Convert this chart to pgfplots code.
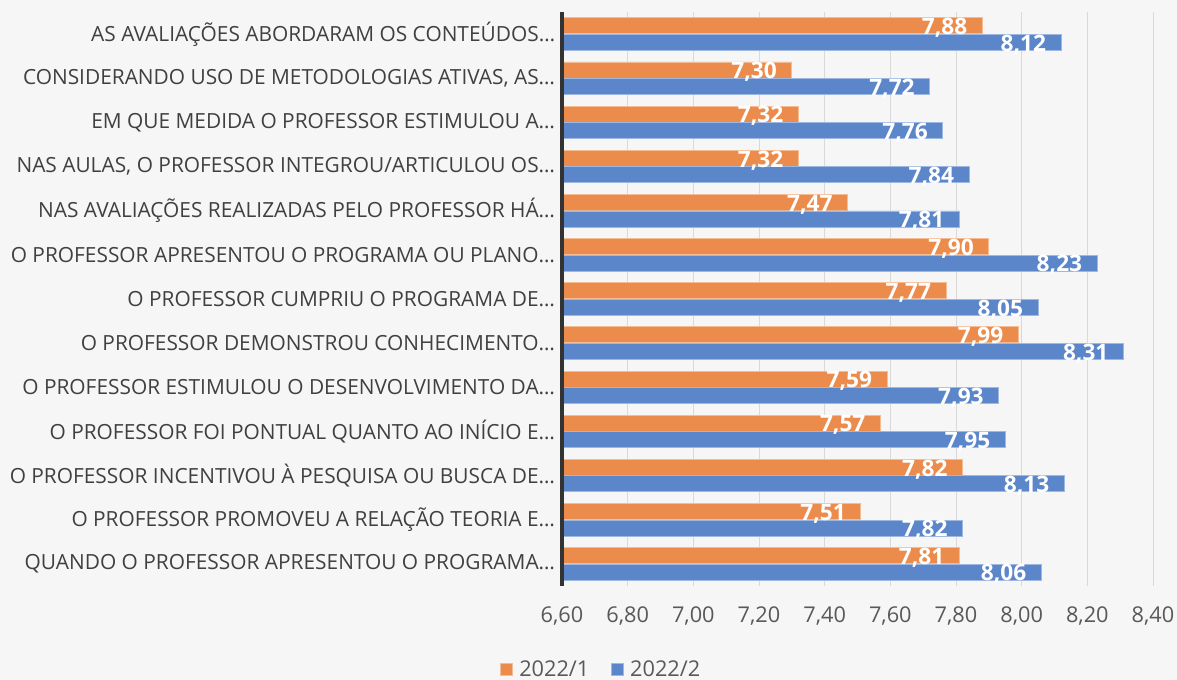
\documentclass[border=0pt]{standalone}
\usepackage{fontspec}
\setmainfont{Open Sans}
\usepackage{pgfplots}
\pgfplotsset{compat=1.18}
\definecolor{bg}{HTML}{F6F6F6}
\definecolor{cOr}{HTML}{EC8C4C}
\definecolor{cBl}{HTML}{5C86CA}
\definecolor{cOrE}{HTML}{F5BC94}
\definecolor{cBlE}{HTML}{9FB8E2}
\definecolor{gridc}{HTML}{D9D9D9}
\definecolor{txt}{HTML}{404040}
\definecolor{tick}{HTML}{595959}
\pgfplotstableread{
idx a b
0 7.88 8.12
1 7.30 7.72
2 7.32 7.76
3 7.32 7.84
4 7.47 7.81
5 7.90 8.23
6 7.77 8.05
7 7.99 8.31
8 7.59 7.93
9 7.57 7.95
10 7.82 8.13
11 7.51 7.82
12 7.81 8.06
}\datatable
\begin{document}
\begin{tikzpicture}
\fill[bg] (0,0) rectangle (882.75pt,510pt);
\begin{axis}[
  at={(421.5pt,70.5pt)}, anchor=south west,
  scale only axis, width=443.25pt, height=430.5pt,
  xbar, bar width=12pt,
  xmin=6.6, xmax=8.4,
  xtick={6.6,6.8,7.0,7.2,7.4,7.6,7.8,8.0,8.2,8.4},
  ymin=-0.5, ymax=12.5, y dir=reverse,
  ytick={0,1,2,3,4,5,6,7,8,9,10,11,12},
  yticklabels={
    AS AVALIAÇÕES ABORDARAM OS CONTEÚDOS…,
    {CONSIDERANDO USO DE METODOLOGIAS ATIVAS, AS…},
    EM QUE MEDIDA O PROFESSOR ESTIMULOU A…,
    {NAS AULAS, O PROFESSOR INTEGROU/ARTICULOU OS…},
    NAS AVALIAÇÕES REALIZADAS PELO PROFESSOR HÁ…,
    O PROFESSOR APRESENTOU O PROGRAMA OU PLANO…,
    O PROFESSOR CUMPRIU O PROGRAMA DE…,
    O PROFESSOR DEMONSTROU CONHECIMENTO…,
    O PROFESSOR ESTIMULOU O DESENVOLVIMENTO DA…,
    O PROFESSOR FOI PONTUAL QUANTO AO INÍCIO E…,
    O PROFESSOR INCENTIVOU À PESQUISA OU BUSCA DE…,
    O PROFESSOR PROMOVEU A RELAÇÃO TEORIA E…,
    QUANDO O PROFESSOR APRESENTOU O PROGRAMA…},
  yticklabel style={font=\fontsize{15.65pt}{17pt}\selectfont, text=txt, inner sep=0pt, xshift=-5pt},
  xticklabel style={font=\fontsize{16.3pt}{18pt}\selectfont, text=tick, /pgf/number format/use comma, /pgf/number format/fixed, /pgf/number format/fixed zerofill, /pgf/number format/precision=2},
  /pgf/number format/assume math mode=true,
  xtick pos=bottom, ytick pos=left,
  major tick length=0pt,
  xticklabel shift=12pt,
  axis line style={draw=none},
  xmajorgrids, grid style={draw=gridc, line width=0.75pt},
  nodes near coords,
  point meta=x,
  nodes near coords style={/pgf/number format/use comma, /pgf/number format/fixed, /pgf/number format/fixed zerofill, /pgf/number format/precision=2},
  every node near coord/.append style={anchor=east, inner sep=0pt, xshift=-11pt, yshift=-1.5pt, text=white, font=\fontsize{17pt}{19pt}\selectfont\bfseries},
  legend style={at={(axis description cs:0.07,-0.146)}, anchor=center, draw=none, fill=none, legend columns=2,
    font=\fontsize{16.3pt}{18pt}\selectfont, text=tick, /tikz/every even column/.append style={column sep=11pt},
    /tikz/every node/.append style={inner xsep=5pt}},
  legend image code/.code={\fill[#1] (0pt,-4.5pt) rectangle (9pt,4.5pt);},
  clip=false,
]
\addplot[fill=cOr, draw=cOrE, line width=0.6pt, bar shift=6.2pt] table[x=a, y=idx]{\datatable};
\addplot[fill=cBl, draw=cBlE, line width=0.6pt, bar shift=-6.2pt] table[x=b, y=idx]{\datatable};
\legend{2022/1, 2022/2}
\draw[draw=black!80, line width=2.4pt] (rel axis cs:0,0) -- (rel axis cs:0,1);
\end{axis}
\pgfresetboundingbox
\path[use as bounding box] (0,0) rectangle (882.75pt,510pt);
\end{tikzpicture}
\end{document}
